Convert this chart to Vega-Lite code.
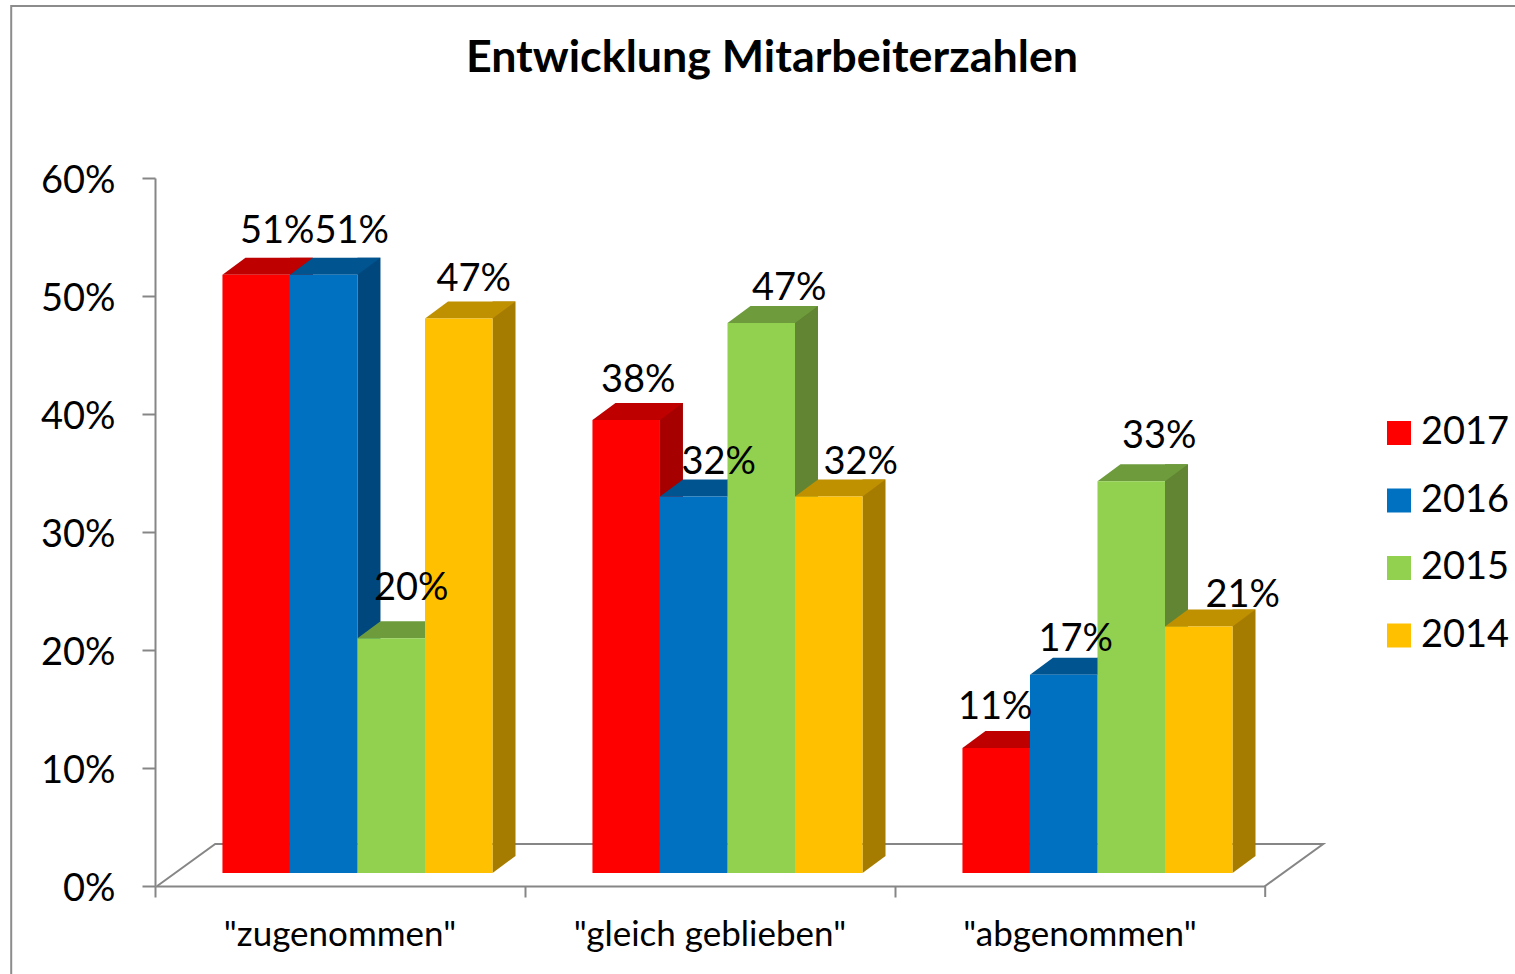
{"$schema":"https://vega.github.io/schema/vega-lite/v6.json","width":1110,"height":708,"autosize":{"type":"none"},"padding":{"left":155,"top":178,"right":250,"bottom":88},"background":"white","title":{"text":"Entwicklung Mitarbeiterzahlen","font":"Lato","fontSize":44.8,"fontWeight":"bold","color":"#000000","anchor":"middle","dx":62,"offset":-80},"config":{"view":{"stroke":null},"font":"Lato"},"data":{"values":[{"group":"\"zugenommen\"","series":"2017","value":0.507},{"group":"\"zugenommen\"","series":"2016","value":0.507},{"group":"\"zugenommen\"","series":"2015","value":0.199},{"group":"\"zugenommen\"","series":"2014","value":0.47},{"group":"\"gleich geblieben\"","series":"2017","value":0.384},{"group":"\"gleich geblieben\"","series":"2016","value":0.319},{"group":"\"gleich geblieben\"","series":"2015","value":0.466},{"group":"\"gleich geblieben\"","series":"2014","value":0.319},{"group":"\"abgenommen\"","series":"2017","value":0.106},{"group":"\"abgenommen\"","series":"2016","value":0.168},{"group":"\"abgenommen\"","series":"2015","value":0.332},{"group":"\"abgenommen\"","series":"2014","value":0.209}]},"resolve":{"scale":{"color":"independent","xOffset":"independent"}},"encoding":{"x":{"field":"group","type":"nominal","sort":null,"scale":{"domain":["\"zugenommen\"","\"gleich geblieben\"","\"abgenommen\""],"paddingInner":0,"paddingOuter":0},"axis":{"title":null,"labelAngle":0,"labelFont":"Lato","labelFontSize":35,"labelLimit":600,"labelColor":"#000000","labelPadding":20,"tickColor":"#868686","tickWidth":2,"tickSize":11,"domainColor":"#868686","domainWidth":2,"bandPosition":0,"grid":false}},"xOffset":{"field":"series","type":"nominal","scale":{"type":"band","domain":["2017","2016","2015","2014"],"paddingInner":0,"paddingOuter":0.74,"align":0.675,"range":[0,370]}},"y":{"field":"value","type":"quantitative","scale":{"domain":[0,0.6],"nice":false,"zero":true},"axis":{"title":null,"format":".0%","values":[0,0.1,0.2,0.3,0.4,0.5,0.6],"labelFont":"Lato","labelFontSize":38,"labelColor":"#000000","labelPadding":27,"labelOffset":3,"tickColor":"#868686","tickWidth":2,"tickSize":13,"domainColor":"#868686","domainWidth":2,"grid":false}}},"layer":[{"transform":[{"filter":"datum.group[1]=='g'&&datum.series=='2017'"}],"mark":{"type":"point","shape":"M-615 90 L-615 -880 L889 -880","size":4,"filled":false,"stroke":"#8C8C8C","strokeWidth":2,"opacity":1,"clip":false},"encoding":{"y":{"datum":0}}},{"transform":[{"filter":"datum.group[1]=='g'&&datum.series=='2017'"}],"mark":{"type":"point","shape":"M-469 0 L-411 -42 L697 -42 L639 0 L639 11","size":4,"filled":false,"stroke":"#868686","strokeWidth":2,"opacity":1},"encoding":{"y":{"datum":0}}},{"mark":{"type":"rule","yOffset":-30,"y2Offset":-30,"strokeWidth":23,"strokeCap":"butt"},"encoding":{"xOffset":{"field":"series","type":"nominal","scale":{"type":"band","domain":["2017","2016","2015","2014"],"paddingInner":0,"paddingOuter":0.74,"align":0.675,"range":[45.25,415.25]}},"y2":{"datum":0},"color":{"field":"series","type":"nominal","legend":null,"scale":{"domain":["2017","2016","2015","2014"],"range":["#A60000","#00477E","#618532","#A67C00"]}}}},{"mark":{"type":"point","shape":"M33.75 0 L33.75 -17 L56.75 -17 Z","size":4,"filled":true,"opacity":1,"stroke":null,"yOffset":-13},"encoding":{"y":{"datum":0},"color":{"field":"series","type":"nominal","legend":null,"scale":{"domain":["2017","2016","2015","2014"],"range":["#A60000","#00477E","#618532","#A67C00"]}}}},{"mark":{"type":"point","shape":"M-33.75 0 L-10.75 -17 L56.75 -17 L33.75 0 Z","size":4,"filled":true,"opacity":1,"stroke":null,"yOffset":-13},"encoding":{"color":{"field":"series","type":"nominal","legend":null,"scale":{"domain":["2017","2016","2015","2014"],"range":["#BF0000","#005490","#6E9C3C","#BF9000"]}}}},{"mark":{"type":"bar","yOffset":-13,"y2Offset":-13,"stroke":null},"encoding":{"y2":{"datum":0},"color":{"field":"series","type":"nominal","scale":{"domain":["2017","2016","2015","2014"],"range":["#FF0000","#0070C0","#92D050","#FFC000"]},"legend":{"title":null,"orient":"none","legendX":1225,"legendY":236,"symbolType":"square","symbolSize":576,"symbolStrokeWidth":0,"labelFont":"Lato","labelFontSize":38,"labelColor":"#000000","labelOffset":3,"rowPadding":29.5}}}},
{"transform":[{"filter":"datum.group[1]=='z'&&datum.series=='2017'"}],"mark":{"type":"text","font":"Lato","fontSize":38,"color":"#000000","dx":21,"dy":-56,"baseline":"middle"},"encoding":{"text":{"field":"value","format":".0%"}}},
{"transform":[{"filter":"datum.group[1]=='z'&&datum.series=='2016'"}],"mark":{"type":"text","font":"Lato","fontSize":38,"color":"#000000","dx":28,"dy":-56,"baseline":"middle"},"encoding":{"text":{"field":"value","format":".0%"}}},
{"transform":[{"filter":"datum.group[1]=='z'&&datum.series=='2015'"}],"mark":{"type":"text","font":"Lato","fontSize":38,"color":"#000000","dx":20,"dy":-62,"baseline":"middle"},"encoding":{"text":{"field":"value","format":".0%"}}},
{"transform":[{"filter":"datum.group[1]=='z'&&datum.series=='2014'"}],"mark":{"type":"text","font":"Lato","fontSize":38,"color":"#000000","dx":15,"dy":-51,"baseline":"middle"},"encoding":{"text":{"field":"value","format":".0%"}}},
{"transform":[{"filter":"datum.group[1]=='g'&&datum.series=='2017'"}],"mark":{"type":"text","font":"Lato","fontSize":38,"color":"#000000","dx":12,"dy":-52,"baseline":"middle"},"encoding":{"text":{"field":"value","format":".0%"}}},
{"transform":[{"filter":"datum.group[1]=='g'&&datum.series=='2016'"}],"mark":{"type":"text","font":"Lato","fontSize":38,"color":"#000000","dx":25,"dy":-47,"baseline":"middle"},"encoding":{"text":{"field":"value","format":".0%"}}},
{"transform":[{"filter":"datum.group[1]=='g'&&datum.series=='2015'"}],"mark":{"type":"text","font":"Lato","fontSize":38,"color":"#000000","dx":28,"dy":-47,"baseline":"middle"},"encoding":{"text":{"field":"value","format":".0%"}}},
{"transform":[{"filter":"datum.group[1]=='g'&&datum.series=='2014'"}],"mark":{"type":"text","font":"Lato","fontSize":38,"color":"#000000","dx":32,"dy":-47,"baseline":"middle"},"encoding":{"text":{"field":"value","format":".0%"}}},
{"transform":[{"filter":"datum.group[1]=='a'&&datum.series=='2017'"}],"mark":{"type":"text","font":"Lato","fontSize":38,"color":"#000000","dx":-1,"dy":-53,"baseline":"middle"},"encoding":{"text":{"field":"value","format":".0%"}}},
{"transform":[{"filter":"datum.group[1]=='a'&&datum.series=='2016'"}],"mark":{"type":"text","font":"Lato","fontSize":38,"color":"#000000","dx":12,"dy":-48,"baseline":"middle"},"encoding":{"text":{"field":"value","format":".0%"}}},
{"transform":[{"filter":"datum.group[1]=='a'&&datum.series=='2015'"}],"mark":{"type":"text","font":"Lato","fontSize":38,"color":"#000000","dx":28,"dy":-57,"baseline":"middle"},"encoding":{"text":{"field":"value","format":".0%"}}},
{"transform":[{"filter":"datum.group[1]=='a'&&datum.series=='2014'"}],"mark":{"type":"text","font":"Lato","fontSize":38,"color":"#000000","dx":44,"dy":-43,"baseline":"middle"},"encoding":{"text":{"field":"value","format":".0%"}}}]}
